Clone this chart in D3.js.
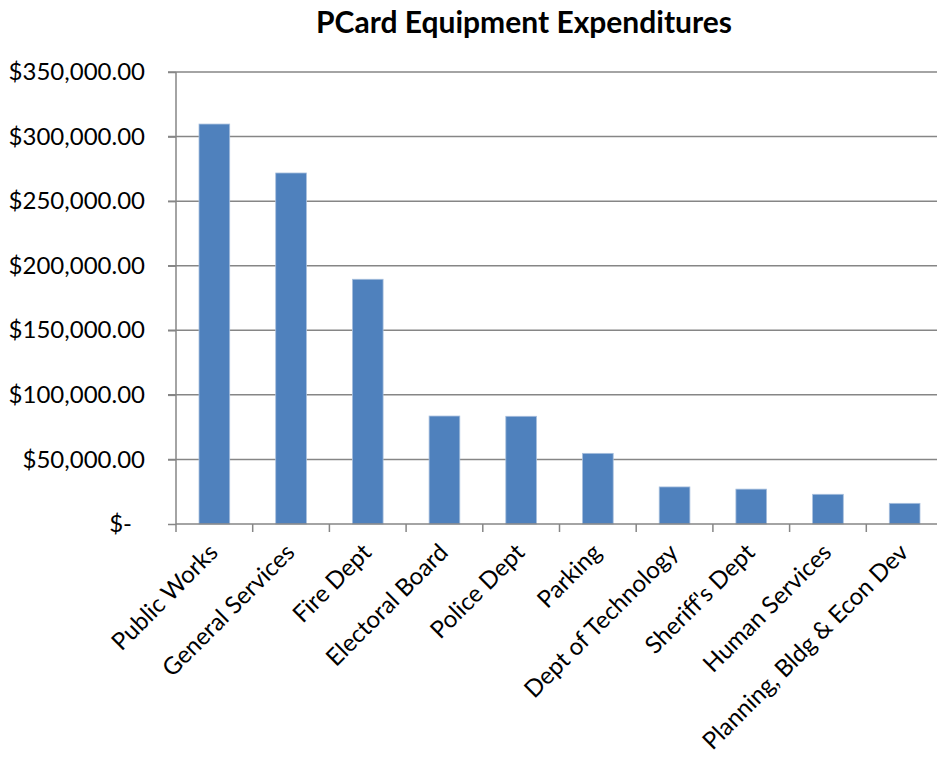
<!DOCTYPE html>
<html><head><meta charset="utf-8">
<script src="https://cdn.jsdelivr.net/npm/d3@7"></script>
<style>body{margin:0;background:#fff;} svg{display:block;}</style>
</head><body>
<script>
const categories = ["Public Works","General Services","Fire Dept","Electoral Board","Police Dept","Parking","Dept of Technology","Sheriff's Dept","Human Services","Planning, Bldg & Econ Dev"];
const values = [309700,271800,189500,83600,83400,54700,28700,27000,23000,16000];
const yTicks = [0,50000,100000,150000,200000,250000,300000,350000];
const title = "PCard Equipment Expenditures";

(function(){
const W = 937, H = 757;
const pL = 176, pR = 943, pT = 72, pB = 524;
const font = "Lato, 'Open Sans', sans-serif";

const svg = d3.select("body").append("svg").attr("width", W).attr("height", H);

const x = d3.scaleBand().domain(categories).range([pL, pR]).paddingInner(0.6).paddingOuter(0.3);
const xb = d3.scaleBand().domain(categories).range([pL, pR]);
const y = d3.scaleLinear().domain([0, 350000]).range([pB, pT]);

const fmt = v => v === 0 ? "$-" : "$" + d3.format(",.2f")(v);

// gridlines
svg.append("g").selectAll("line").data(yTicks.filter(d => d > 0)).join("line")
  .attr("x1", pL - 8).attr("x2", W).attr("y1", d => y(d)).attr("y2", d => y(d))
  .attr("stroke", "#868686").attr("stroke-width", 1.5);

// y axis
const ya = svg.append("g").attr("transform", `translate(${pL},0)`)
  .call(d3.axisLeft(y).tickValues(yTicks).tickFormat(fmt).tickSize(8).tickPadding(23));
ya.select(".domain").attr("stroke", "#868686").attr("stroke-width", 1.5).attr("d", `M0,${pT}V${pB + 8}`);
ya.selectAll(".tick line").attr("stroke", "#868686").attr("stroke-width", 1.5);
ya.selectAll(".tick text").attr("font-family", font).attr("font-size", 24).attr("fill", "#000")
  .attr("dx", d => d === 0 ? -13 : 0);

// bars
svg.append("g").selectAll("rect").data(values).join("rect")
  .attr("x", (d, i) => x(categories[i]))
  .attr("width", x.bandwidth())
  .attr("y", d => y(d))
  .attr("height", d => pB - y(d))
  .attr("fill", "#4F81BD").attr("stroke", "#a7bfdd").attr("stroke-width", 0.8);

// x axis
const xa = svg.append("g");
xa.append("line").attr("x1", pL).attr("x2", W).attr("y1", pB).attr("y2", pB)
  .attr("stroke", "#868686").attr("stroke-width", 1.5);
xa.selectAll("line.tk").data(categories).join("line").attr("class","tk")
  .attr("x1", d => xb(d) + xb.step()).attr("x2", d => xb(d) + xb.step())
  .attr("y1", pB).attr("y2", pB + 8).attr("stroke", "#868686").attr("stroke-width", 1.5);
xa.selectAll("text").data(categories).join("text")
  .attr("transform", d => `translate(${xb(d) + xb.bandwidth() / 2 + 5},${pB + 30}) rotate(-45)`)
  .attr("text-anchor", "end")
  .attr("font-family", font).attr("font-size", 24).attr("fill", "#000")
  .text(d => d);

svg.append("text").attr("x", 524).attr("y", 33).attr("text-anchor", "middle")
  .attr("font-family", font).attr("font-weight", "bold").attr("font-size", 30).attr("fill", "#000")
  .text(title);
})();
</script>
</body></html>
